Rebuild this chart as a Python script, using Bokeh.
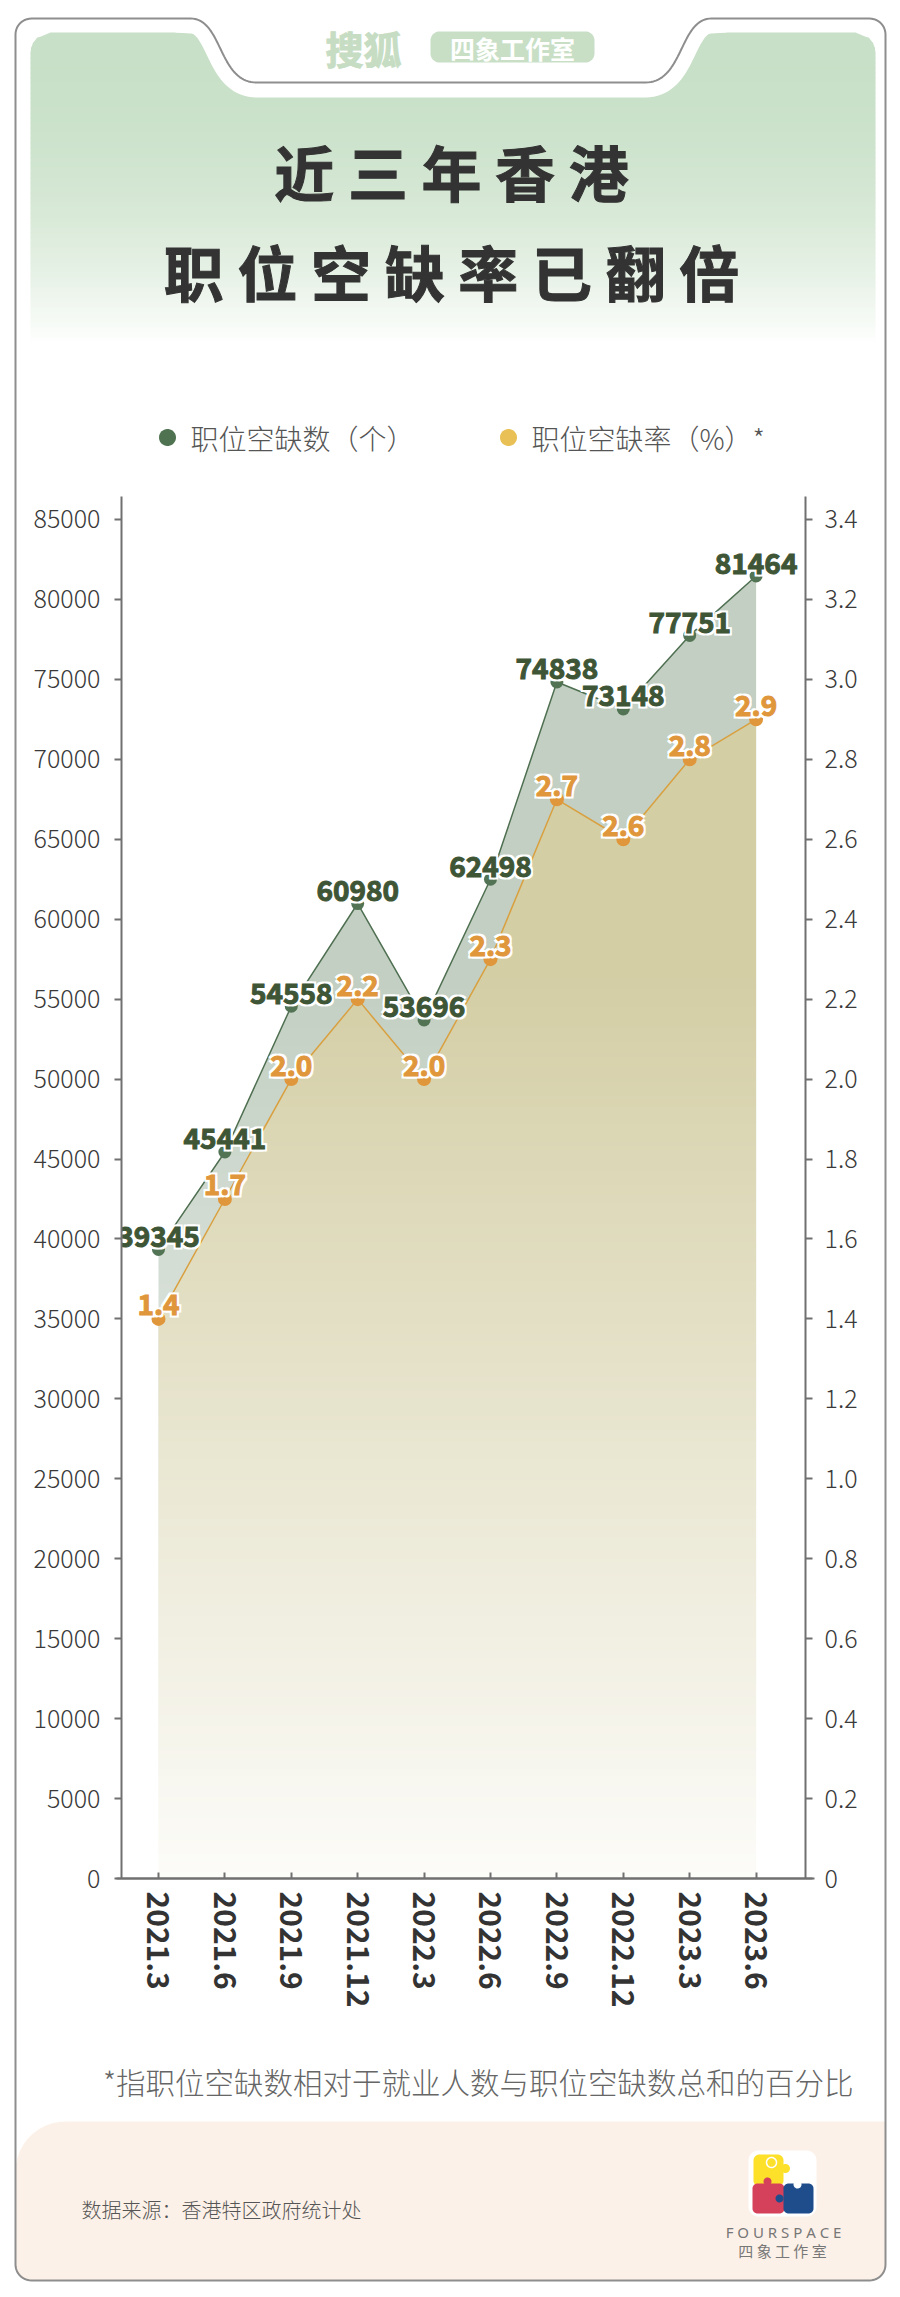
import math
import numpy as np
from bokeh.plotting import figure
from bokeh.models import (Range1d, LinearAxis, FixedTicker, ColumnDataSource, NumeralTickFormatter)
from bokeh.core.properties import value
from bokeh.embed import file_html
from bokeh.resources import INLINE

# ---------------- data ----------------
periods = ["2021.3", "2021.6", "2021.9", "2021.12", "2022.3",
           "2022.6", "2022.9", "2022.12", "2023.3", "2023.6"]
vacancies = [39345, 45441, 54558, 60980, 53696, 62498, 74838, 73148, 77751, 81464]
rates = [1.4, 1.7, 2.0, 2.2, 2.0, 2.3, 2.7, 2.6, 2.8, 2.9]
vac_ticks = [0, 5000, 10000, 15000, 20000, 25000, 30000, 35000, 40000,
             45000, 50000, 55000, 60000, 65000, 70000, 75000, 80000, 85000]
rate_ticks = [0.0, 0.2, 0.4, 0.6, 0.8, 1.0, 1.2, 1.4, 1.6, 1.8,
              2.0, 2.2, 2.4, 2.6, 2.8, 3.0, 3.2, 3.4]
rate_tick_labels = ["0", "0.2", "0.4", "0.6", "0.8", "1.0", "1.2", "1.4", "1.6", "1.8",
                    "2.0", "2.2", "2.4", "2.6", "2.8", "3.0", "3.2", "3.4"]
title_lines = ["近 三 年 香 港", "职 位 空 缺 率 已 翻 倍"]
legend_labels = ["职位空缺数（个）", "职位空缺率（%）*"]
footnote = "*指职位空缺数相对于就业人数与职位空缺数总和的百分比"
source_note = "数据来源：香港特区政府统计处"
brand = "搜狐"
studio = "四象工作室"

# ---------------- styles ----------------
CJK = "Noto Sans CJK SC"
LIGHT = "Noto Sans CJK SC Light, Noto Sans CJK SC DemiLight, Noto Sans CJK SC"
GREEN_DOT = "#527454"
GREEN_TXT = "#3e5536"
GREEN_LINE = "#4f6f51"
GREEN_AREA = "#c2cfc2"
ORANGE_DOT = "#e0963a"
ORANGE_LINE = "#d9a040"
YELLOW_AREA = "#d4cea5"
AXIS = "#707070"

W, H = 900, 2297
FL, FR, FT, FB = 121, 805, 496, 1878   # frame edges in page pixels

p = figure(width=W, height=H, output_backend="svg", toolbar_location=None,
           x_range=Range1d(-0.557, 9.744), y_range=Range1d(0, 86438),
           min_border_left=FL, min_border_right=W - FR,
           min_border_top=FT, min_border_bottom=H - FB)
p.extra_y_ranges = {"rate": Range1d(0, 86438 / 25000), "py": Range1d(FB, FT)}
p.extra_x_ranges = {"px": Range1d(FL, FR)}
p.outline_line_color = None
p.xgrid.visible = False
p.ygrid.visible = False
p.background_fill_color = "white"
p.border_fill_color = "white"

# left axis
ya = p.yaxis[0]
ya.ticker = FixedTicker(ticks=vac_ticks)
ya.formatter = NumeralTickFormatter(format="0")
ya.axis_line_color = AXIS
ya.axis_line_width = 2
ya.major_tick_line_color = AXIS
ya.major_tick_line_width = 2
ya.major_tick_out = 7
ya.major_tick_in = 0
ya.minor_tick_line_color = None
ya.major_label_text_font = LIGHT
ya.major_label_text_font_size = "25px"
ya.major_label_text_color = "#3a3a3a"
ya.major_label_standoff = 14

# right axis
ra = LinearAxis(y_range_name="rate", ticker=FixedTicker(ticks=rate_ticks),
                major_label_overrides={t: s for t, s in zip(rate_ticks, rate_tick_labels)})
ra.axis_line_color = AXIS
ra.axis_line_width = 2
ra.major_tick_line_color = AXIS
ra.major_tick_line_width = 2
ra.major_tick_out = 7
ra.major_tick_in = 0
ra.minor_tick_line_color = None
ra.major_label_text_font = LIGHT
ra.major_label_text_font_size = "25px"
ra.major_label_text_color = "#3a3a3a"
ra.major_label_standoff = 12
p.add_layout(ra, "right")

# bottom axis
xa = p.xaxis[0]
xa.ticker = FixedTicker(ticks=list(range(len(periods))))
xa.major_label_overrides = {i: s for i, s in enumerate(periods)}
xa.major_label_orientation = -math.pi / 2
xa.major_label_text_font = CJK
xa.major_label_text_font_style = "bold"
xa.major_label_text_font_size = "30px"
xa.major_label_text_color = "#333333"
xa.major_label_standoff = 13
xa.axis_line_color = AXIS
xa.axis_line_width = 2
xa.major_tick_line_color = AXIS
xa.major_tick_line_width = 2
xa.major_tick_in = 6
xa.major_tick_out = 0
xa.minor_tick_line_color = None

src = ColumnDataSource(dict(
    x=list(range(len(periods))), vac=vacancies, rate=rates,
    vac_lbl=[str(v) for v in vacancies], rate_lbl=["%.1f" % r for r in rates]))

# areas
p.varea(x="x", y1=0, y2="vac", source=src, fill_color=GREEN_AREA)
p.varea(x="x", y1=0, y2="rate", source=src, fill_color=YELLOW_AREA, y_range_name="rate")

# vertical white fade over both areas: one RGBA image, transparent at the top
VTOP, NROW = 57000.0, 256
fade = np.zeros((NROW, 1), dtype=np.uint32)
fv = fade.view(dtype=np.uint8).reshape((NROW, 1, 4))
for i in range(NROW):
    a = 0.93 * (1 - (i + 0.5) / NROW)
    fv[i, 0, :] = [255, 255, 255, int(round(a * 255))]
p.image_rgba(image=[fade], x=-1, y=0, dw=12, dh=VTOP, level="glyph")

# lines, points, labels
p.line("x", "vac", source=src, line_color=GREEN_LINE, line_width=1.5)
p.line("x", "rate", source=src, line_color=ORANGE_LINE, line_width=1.5, y_range_name="rate")
p.scatter("x", "vac", source=src, size=13, fill_color=GREEN_DOT, line_color=None)
p.scatter("x", "rate", source=src, size=14, fill_color=ORANGE_DOT, line_color=None,
          y_range_name="rate")

LBL = dict(source=src, text_font=value(CJK), text_font_style="bold", text_font_size="28px",
           text_align="center", text_baseline="alphabetic")
HALO = [(-2, -2), (2, -2), (-2, 2), (2, 2)]
for dx, dy in HALO:   # white halo around the value labels
    p.text("x", "vac", text="vac_lbl", text_color="white", text_outline_color="white",
           x_offset=dx, y_offset=-13 + dy, **LBL)
    p.text("x", "rate", text="rate_lbl", text_color="white", text_outline_color="white",
           x_offset=dx, y_offset=-14 + dy, y_range_name="rate", **LBL)
p.text("x", "vac", text="vac_lbl", text_color=GREEN_TXT, text_outline_color=GREEN_TXT,
       y_offset=-13, **LBL)
p.text("x", "rate", text="rate_lbl", text_color=ORANGE_DOT, text_outline_color=ORANGE_DOT,
       y_offset=-14, y_range_name="rate", **LBL)

# ---------------- decoration helpers (page pixel coords, unclipped overlay) ----------------
PX = dict(x_range_name="px", y_range_name="py", level="overlay")

def poly(xs, ys, fill_color=None, line_color=None, line_width=1.0):
    p.patch([float(x) for x in xs], [float(y) for y in ys], fill_color=fill_color,
            fill_alpha=1.0 if fill_color else 0, line_color=line_color,
            line_width=line_width, **PX)

def label(x, y, text, font=CJK, size="20px", color="#333333", align="left",
          baseline="middle", style="normal", outline=None):
    p.text(x=[x], y=[y], text=[text], text_font=value(font), text_font_size=size,
           text_font_style=style, text_color=color, text_align=align,
           text_baseline=baseline, text_outline_color=outline, **PX)

def arc(cx, cy, r, a0, a1, n=12):
    a = np.radians(np.linspace(a0, a1, n))
    return list(cx + r * np.cos(a)), list(cy + r * np.sin(a))

def circle(cx, cy, r, n=36):
    return arc(cx, cy, r, 0, 360, n)

def rrect(x0, y0, x1, y1, r):
    xs, ys = [], []
    for cx, cy, a0, a1 in [(x0 + r, y0 + r, 180, 270), (x1 - r, y0 + r, 270, 360),
                           (x1 - r, y1 - r, 0, 90), (x0 + r, y1 - r, 90, 180)]:
        ax, ay = arc(cx, cy, r, a0, a1)
        xs += ax
        ys += ay
    return xs, ys

def bez(p0, p1, p2, p3, n=40):
    p0, p1, p2, p3 = map(np.array, (p0, p1, p2, p3))
    t = np.linspace(0, 1, n)[:, None]
    P = (1 - t) ** 3 * p0 + 3 * (1 - t) ** 2 * t * p1 + 3 * (1 - t) * t ** 2 * p2 + t ** 3 * p3
    D = 3 * (1 - t) ** 2 * (p1 - p0) + 6 * (1 - t) * t * (p2 - p1) + 3 * t ** 2 * (p3 - p2)
    return P, D

# x-axis line runs a little past both vertical axes, as in the original
p.line([116, 814], [FB, FB], line_color=AXIS, line_width=2, **PX)

MIRROR = 901.0
L, RT, T, B, R = 15, 885, 18, 2280, 16
curveP, curveD = bez((190, 18), (222, 18), (218, 82), (256, 82))

# header gradient panel
top_c = np.array([200, 224, 199])

def inset(yy, r=20.0, top=32.0):
    if yy >= top + r:
        return 0.0
    d = top + r - yy
    return r - math.sqrt(max(r * r - d * d, 0))

y = 32.0
step = 5.0
while y < 345:
    ya0, ya1 = y, min(y + step + 1, 346)
    tmid = ((y + step / 2 - 32) / 313.0) ** 2.2
    c = top_c + (255 - top_c) * min(tmid, 1)
    col = "#%02x%02x%02x" % tuple(int(round(v)) for v in c)
    poly([30 + inset(ya0), 875 - inset(ya0), 875 - inset(ya1), 30 + inset(ya1)],
         [ya0, ya0, ya1, ya1], fill_color=col)
    y += step

# white notch cut into the panel
norm = np.stack([-curveD[:, 1], curveD[:, 0]], axis=1)
norm = norm / np.linalg.norm(norm, axis=1)[:, None]
offP = curveP + 15 * norm
nx = [175] + list(offP[:, 0]) + list(MIRROR - offP[::-1, 0]) + [MIRROR - 175]
ny = [32] + list(offP[:, 1]) + list(offP[::-1, 1]) + [32]
poly(nx + [MIRROR - 175, 175], ny + [20, 20], fill_color="white")

# footer panel
fx, fy = arc(L + 50, 2121 + 50, 50, 180, 270)
bx1, by1 = arc(RT - R, B - R, R, 0, 90)
bx2, by2 = arc(L + R, B - R, R, 90, 180)
poly(fx + [RT] + bx1 + bx2, fy + [2121] + by1 + by2, fill_color="#fcf1e8")

# outer frame with top tab
ox, oy = arc(L + R, T + R, R, 180, 270)
ox += list(curveP[:, 0]) + list(MIRROR - curveP[::-1, 0])
oy += list(curveP[:, 1]) + list(curveP[::-1, 1])
for cx, cy, a0, a1 in [(RT - R, T + R, 270, 360), (RT - R, B - R, 0, 90), (L + R, B - R, 90, 180)]:
    ax_, ay_ = arc(cx, cy, R, a0, a1)
    ox += ax_
    oy += ay_
poly(ox, oy, line_color="#8e8e8e", line_width=2)

# branding in the tab
label(363, 47, brand, size="38px", color="#c6ddc3", align="center", style="bold",
      outline="#c6ddc3")
bxs, bys = rrect(430, 31, 594, 62, 9)
poly(bxs, bys, fill_color="#c8dfc6")
label(512, 47, studio, size="25px", color="white", align="center", style="bold")

# title
label(451, 170, title_lines[0], size="60px", color="#333333", align="center", style="bold",
      outline="#333333")
label(451, 270, title_lines[1], size="60px", color="#333333", align="center", style="bold",
      outline="#333333")

# legend
for (cx, col), txt in zip([(167, "#4f7350"), (508, "#e8c055")], legend_labels):
    cxs, cys = circle(cx, 437, 8.5)
    poly(cxs, cys, fill_color=col)
    label(cx + 23, 437, txt, font=LIGHT, size="28px", color="#555555")

# footnote and source
label(853, 2080, footnote, font=LIGHT, size="29.5px", color="#666666", align="right")
label(81, 2209, source_note, font=LIGHT, size="20px", color="#555555")

# logo
lx, ly = rrect(748, 2150, 816, 2216, 10)
poly(lx, ly, fill_color="white")
yx, yy_ = rrect(753, 2154, 783, 2186, 6)
poly(yx, yy_, fill_color="#fde02a")
cx_, cy_ = circle(785, 2168, 4.5)
poly(cx_, cy_, fill_color="#fde02a")
rx, ry = rrect(752, 2183, 784, 2213, 5)
poly(rx, ry, fill_color="#d5415a")
cx_, cy_ = circle(767, 2181, 4)
poly(cx_, cy_, fill_color="#d5415a")
bx_, by_ = rrect(783, 2183, 813, 2213, 5)
poly(bx_, by_, fill_color="#1f4d8c")
cx_, cy_ = circle(779, 2198, 4)
poly(cx_, cy_, fill_color="#1f4d8c")
cx_, cy_ = circle(797, 2184, 4)
poly(cx_, cy_, fill_color="white")
cx_, cy_ = circle(771, 2162, 5)
poly(cx_, cy_, line_color="white", line_width=1.5)
label(783, 2231, "F O U R S P A C E", font="Noto Sans", size="15px", color="#777777", align="center")
label(782, 2250, "四 象 工 作 室", size="15px", color="#777777", align="center")

open("out.html", "w").write(file_html(p, INLINE))
